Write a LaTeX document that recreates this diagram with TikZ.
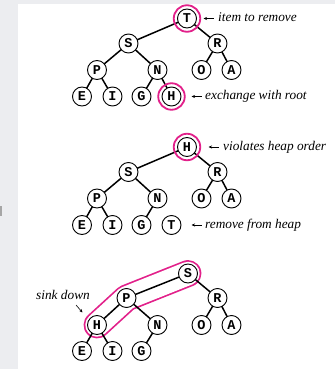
\documentclass[tikz,border=0pt]{standalone}
\usepackage{fontspec}
\setmainfont{Liberation Serif}
\setmonofont{Liberation Mono}
\usetikzlibrary{arrows.meta}
\definecolor{hl}{RGB}{226,32,138}
\definecolor{bg}{RGB}{236,237,240}
\pgfdeclarelayer{back}
\pgfdeclarelayer{edges}
\pgfsetlayers{back,edges,main}
\begin{document}
\begin{tikzpicture}[x=1pt,y=-1pt,
 key/.style={circle,draw,line width=0.9pt,fill=white,minimum size=19pt,inner sep=0pt,font=\ttfamily\bfseries\fontsize{13.5}{13.5}\selectfont},
 edge/.style={line width=1.5pt},
 ring/.style={circle,draw=hl,line width=1.8pt,minimum size=26.5pt,inner sep=0pt},
 note/.style={anchor=west,inner sep=0pt,text height=9pt,text depth=3pt,font=\itshape\fontsize{13.3}{14}\selectfont},
 pointer/.style={-{Stealth[length=3.5pt,width=3pt]},line width=0.6pt},
 outline/.style={line cap=round,line join=round}]
\useasboundingbox (0,0) rectangle (335,369);
\begin{pgfonlayer}{back}
\fill[bg] (0,0) rectangle (335,369);
\fill[white] (18,4) rectangle (335,369);
\fill[gray!70] (0,206) rectangle (2,216);
\end{pgfonlayer}
% ---------- tree 1
\node[key] (T1) at (187,18.5) {T};
\node[key] (S1) at (128.5,43.5) {S};
\node[key] (R1) at (217.5,43.5) {R};
\node[key] (P1) at (97,70) {P};
\node[key] (N1) at (157.5,70) {N};
\node[key] (O1) at (201.5,70) {O};
\node[key] (A1) at (231.5,70) {A};
\node[key] (E1) at (82,96.5) {E};
\node[key] (I1) at (112.5,96.5) {I};
\node[key] (G1) at (141.5,96.5) {G};
\node[key] (H1) at (171.5,96.5) {H};
\node[ring] (rT1) at (T1) {};
\node[ring] (rH1) at (H1) {};
\begin{pgfonlayer}{edges}
\draw[edge] (T1.center) -- (S1.center) (T1.center) -- (R1.center)
  (S1.center) -- (P1.center) (S1.center) -- (N1.center)
  (R1.center) -- (O1.center) (R1.center) -- (A1.center)
  (P1.center) -- (E1.center) (P1.center) -- (I1.center)
  (N1.center) -- (G1.center) (N1.center) -- (H1.center);
\end{pgfonlayer}
\node[note] (l1) at (218,18.5) {item to remove};
\draw[pointer] ([xshift=-4.5pt]l1.west) -- ++(-10,0);
\node[note] (l2) at (205,96.5) {exchange with root};
\draw[pointer] ([xshift=-3.5pt]l2.west) -- ++(-10,0);
% ---------- tree 2
\node[key] (H2) at (187,147) {H};
\node[key] (S2) at (128.5,172) {S};
\node[key] (R2) at (217.5,172) {R};
\node[key] (P2) at (97,198.5) {P};
\node[key] (N2) at (157.5,198.5) {N};
\node[key] (O2) at (201.5,198.5) {O};
\node[key] (A2) at (231.5,198.5) {A};
\node[key] (E2) at (82,225) {E};
\node[key] (I2) at (112.5,225) {I};
\node[key] (G2) at (141.5,225) {G};
\node[key] (T2) at (171.5,225) {T};
\node[ring] (rH2) at (H2) {};
\begin{pgfonlayer}{edges}
\draw[edge] (H2.center) -- (S2.center) (H2.center) -- (R2.center)
  (S2.center) -- (P2.center) (S2.center) -- (N2.center)
  (R2.center) -- (O2.center) (R2.center) -- (A2.center)
  (P2.center) -- (E2.center) (P2.center) -- (I2.center)
  (N2.center) -- (G2.center);
\end{pgfonlayer}
\node[note] (l3) at (223,147) {violates heap order};
\draw[pointer] ([xshift=-4.5pt]l3.west) -- ++(-10,0);
\node[note] (l4) at (205,225) {remove from heap};
\draw[pointer] ([xshift=-3.5pt]l4.west) -- ++(-10,0);
% ---------- tree 3
\node[key] (S3) at (188,273.5) {S};
\node[key] (P3) at (126.5,298) {P};
\node[key] (R3) at (217.5,298) {R};
\node[key] (H3) at (97,325) {H};
\node[key] (N3) at (157.5,325) {N};
\node[key] (O3) at (201.5,325) {O};
\node[key] (A3) at (231.5,325) {A};
\node[key] (E3) at (82,351) {E};
\node[key] (I3) at (112.5,351) {I};
\node[key] (G3) at (141.5,351) {G};
\begin{pgfonlayer}{edges}
\draw[outline,hl,line width=26.8pt] (S3.center) -- (P3.center) -- (H3.center);
\draw[outline,white,line width=23.4pt] (S3.center) -- (P3.center) -- (H3.center);
\draw[edge] (S3.center) -- (P3.center) (S3.center) -- (R3.center)
  (P3.center) -- (H3.center) (P3.center) -- (N3.center)
  (R3.center) -- (O3.center) (R3.center) -- (A3.center)
  (H3.center) -- (E3.center) (H3.center) -- (I3.center)
  (N3.center) -- (G3.center);
\end{pgfonlayer}
\node[font=\itshape\fontsize{13.3}{14}\selectfont,inner sep=0pt] (l5) at (63,295) {sink down};
\coordinate (a5) at (82.5,312.5);
\draw[pointer] (76,305) -- (a5);
\end{tikzpicture}
\end{document}
